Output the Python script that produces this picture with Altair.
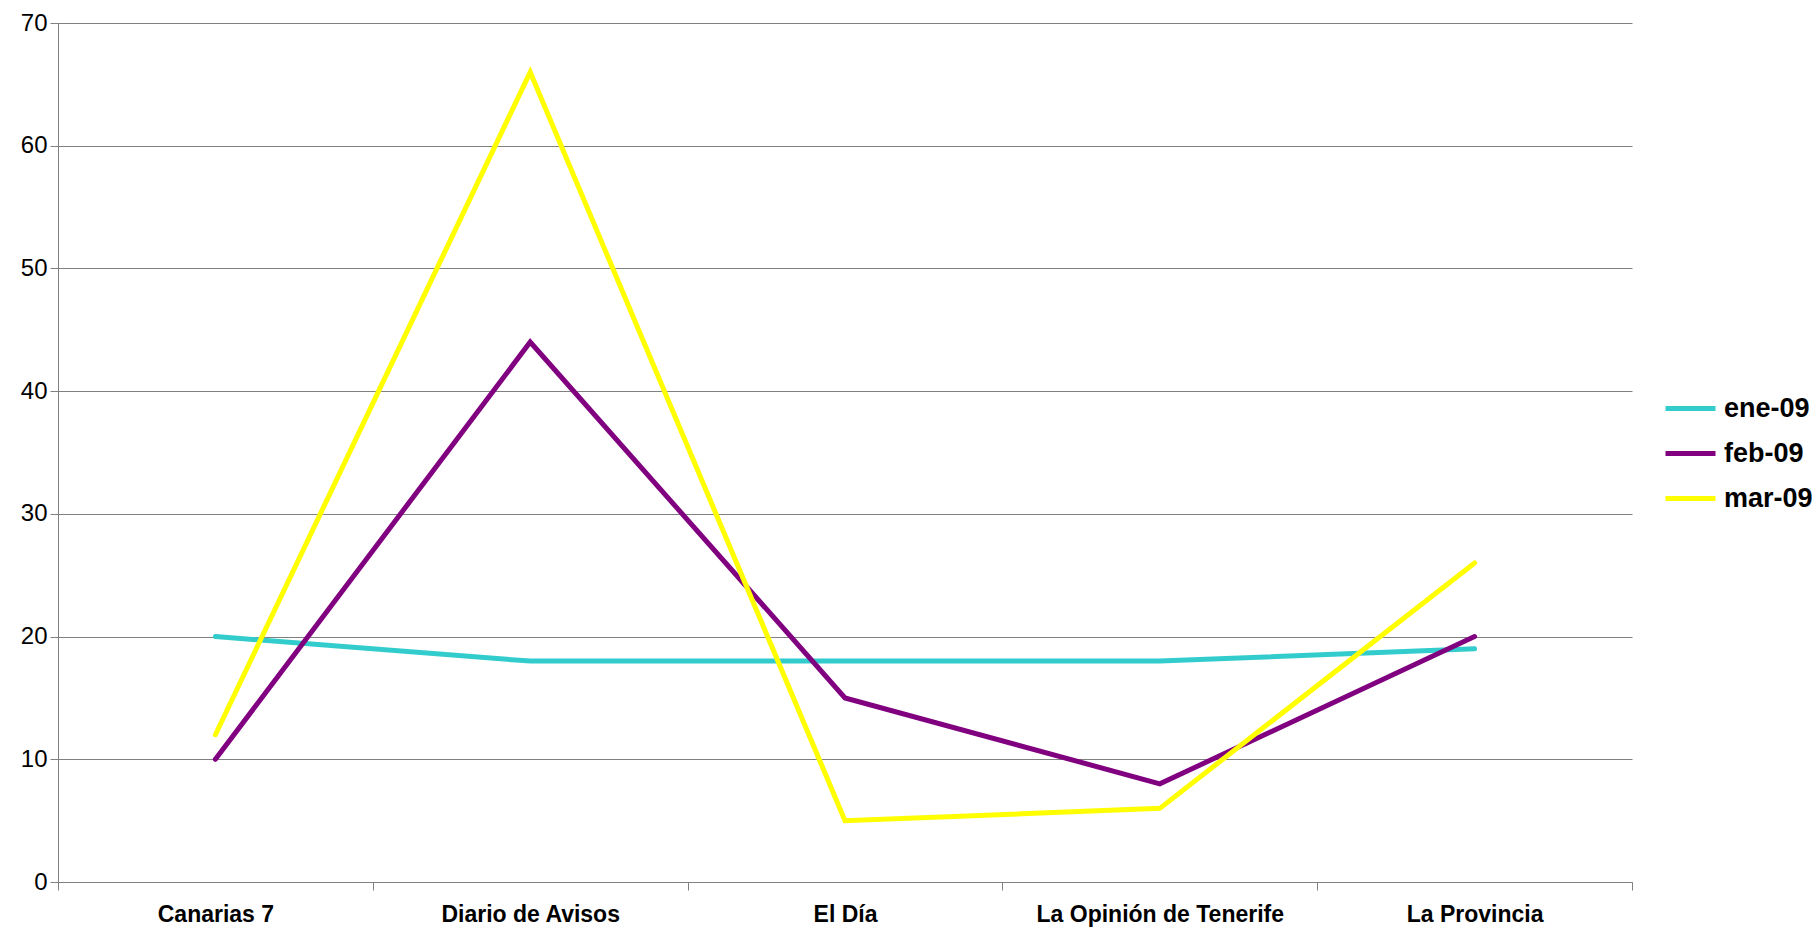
import altair as alt
import pandas as pd

categories = ["Canarias 7", "Diario de Avisos", "El Día", "La Opinión de Tenerife", "La Provincia"]
series_names = ["ene-09", "feb-09", "mar-09"]
ene_09 = [20, 18, 18, 18, 19]
feb_09 = [10, 44, 15, 8, 20]
mar_09 = [12, 66, 5, 6, 26]
colors = ["#33CCCC", "#800080", "#FFFF00"]
y_ticks = [0, 10, 20, 30, 40, 50, 60, 70]

rows = []
for name, vals in zip(series_names, [ene_09, feb_09, mar_09]):
    for c, v in zip(categories, vals):
        rows.append({"Periodico": c, "Mes": name, "Valor": v})
df = pd.DataFrame(rows)

FONT = "Liberation Sans"

chart = alt.Chart(df).mark_line(strokeWidth=5, strokeJoin="miter", strokeCap="round").encode(
    x=alt.X("Periodico:N", sort=categories, title=None,
            scale=alt.Scale(type="band", paddingInner=0, paddingOuter=0),
            axis=alt.Axis(tickBand="extent", labelAngle=0, labelFont=FONT, labelFontSize=23,
                          labelFontWeight="bold", labelColor="#000000", labelPadding=13,
                          tickSize=8, tickColor="#808080", domainColor="#808080",
                          grid=False, labelLimit=400)),
    y=alt.Y("Valor:Q", title=None,
            scale=alt.Scale(domain=[0, 70], nice=False),
            axis=alt.Axis(values=y_ticks, labelFont=FONT, labelFontSize=24, labelColor="#000000",
                          labelPadding=3, tickSize=8, tickColor="#808080", domainColor="#808080",
                          gridColor="#808080", gridWidth=1)),
    color=alt.Color("Mes:N", sort=series_names,
                    scale=alt.Scale(domain=series_names, range=colors),
                    legend=alt.Legend(title=None, orient="none", legendX=1605, legendY=358,
                                      symbolType="stroke", symbolSize=2500, symbolStrokeWidth=5,
                                      labelFont=FONT, labelFontSize=27, labelFontWeight="bold",
                                      labelColor="#000000", labelOffset=6, rowPadding=4)),
).properties(
    width=1574, height=859,
    background="#ffffff",
    autosize=alt.AutoSizeParams(type="none"),
    padding={"left": 50, "top": 15, "right": 180, "bottom": 46},
).configure_view(stroke="transparent", strokeWidth=0)

chart.save("out.html", embed_options={"renderer": "svg", "actions": False})
